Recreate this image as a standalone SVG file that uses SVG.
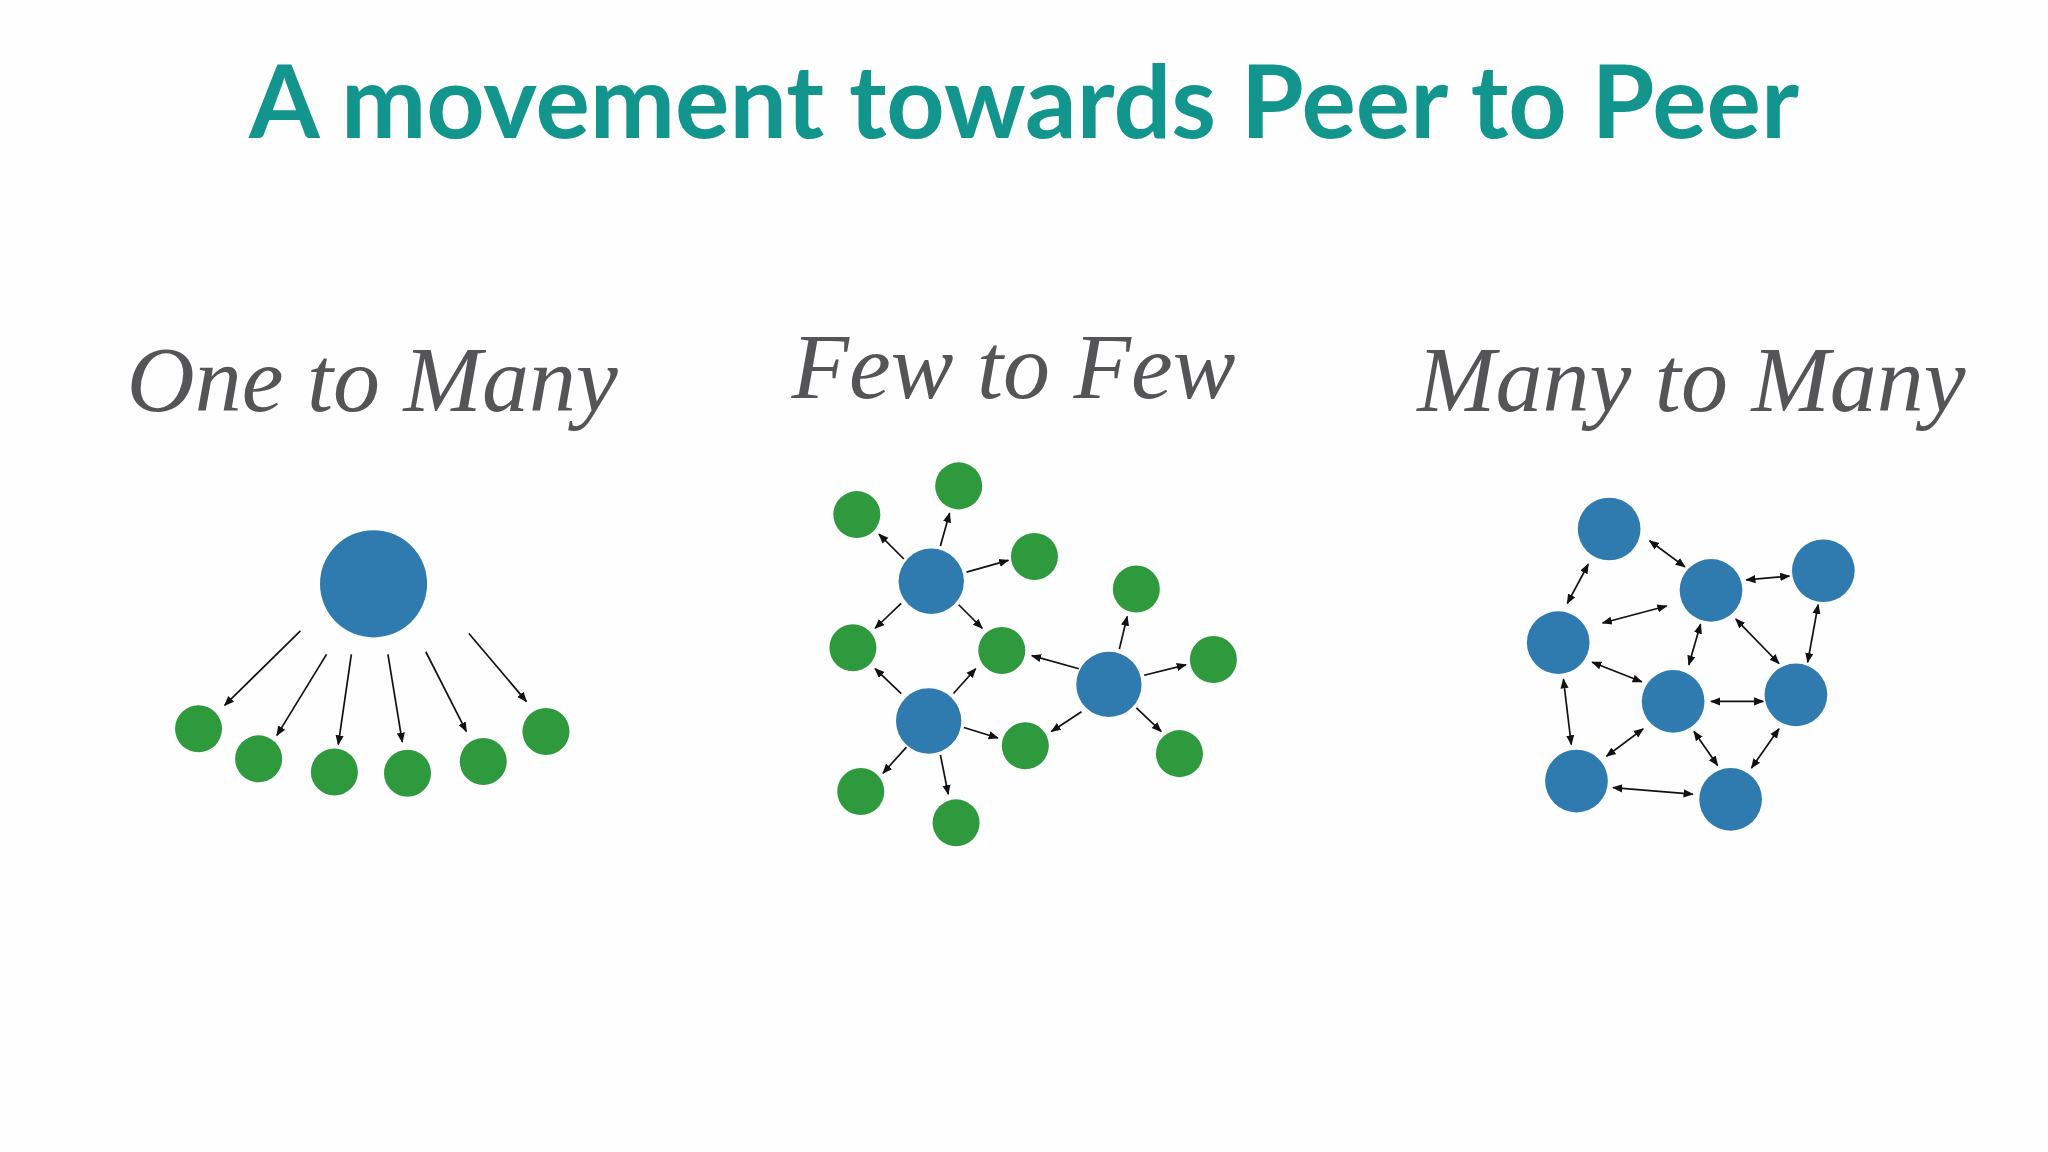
<svg xmlns="http://www.w3.org/2000/svg" width="2048" height="1152" viewBox="0 0 2048 1152">
<defs>
<style>
.t{font-family:Lato,"Open Sans",sans-serif;font-weight:bold;fill:#12958c}
.s{font-family:"Liberation Serif",serif;font-style:italic;fill:#555558}
.b{fill:#2f7bb0}
.g{fill:#2e993d}
.c line{stroke:#111;stroke-width:1.3;marker-end:url(#ah)}
.d line{marker-start:url(#ah)}
</style>
<marker id="ah" viewBox="0 0 10 10" refX="9" refY="5" markerWidth="6" markerHeight="6" orient="auto-start-reverse"><path d="M0,1 L10,5 L0,9 z" fill="#111"/></marker>
</defs>
<rect width="2048" height="1152" fill="#fefefe"/>
<g transform="scale(1.30612)">
<text class="t" x="784" y="106" font-size="78" text-anchor="middle">A movement towards Peer to Peer</text>
<text class="s" x="285" y="315" font-size="72" text-anchor="middle">One to Many</text>
<text class="s" x="776" y="305" font-size="72" text-anchor="middle">Few to Few</text>
<text class="s" x="1295" y="315" font-size="72" text-anchor="middle">Many to Many</text>
<g id="otm">
<circle class="b" cx="286" cy="447" r="41"/>
<circle class="g" cx="152" cy="558" r="18"/><circle class="g" cx="198" cy="581" r="18"/><circle class="g" cx="256" cy="591" r="18"/>
<circle class="g" cx="312" cy="592" r="18"/><circle class="g" cx="370" cy="583" r="18"/><circle class="g" cx="418" cy="560" r="18"/>
</g>
<g id="ftf">
<circle class="b" cx="713" cy="445" r="25"/><circle class="b" cx="711" cy="552" r="25"/><circle class="b" cx="849" cy="524" r="25"/>
<circle class="g" cx="656" cy="394" r="18"/><circle class="g" cx="734" cy="372" r="18"/><circle class="g" cx="792" cy="426" r="18"/>
<circle class="g" cx="653" cy="496" r="18"/><circle class="g" cx="767" cy="498" r="18"/><circle class="g" cx="870" cy="451" r="18"/>
<circle class="g" cx="929" cy="505" r="18"/><circle class="g" cx="785" cy="571" r="18"/><circle class="g" cx="903" cy="577" r="18"/>
<circle class="g" cx="659" cy="606" r="18"/><circle class="g" cx="732" cy="630" r="18"/>
</g>
<g id="mtm">
<circle class="b" cx="1232" cy="405" r="24"/><circle class="b" cx="1310" cy="452" r="24"/><circle class="b" cx="1396" cy="437" r="24"/>
<circle class="b" cx="1193" cy="492" r="24"/><circle class="b" cx="1281" cy="537" r="24"/><circle class="b" cx="1375" cy="532" r="24"/>
<circle class="b" cx="1207" cy="598" r="24"/><circle class="b" cx="1325" cy="612" r="24"/>
</g>
<g id="connectors" class="c">
<line x1="230" y1="483" x2="172" y2="540"/><line x1="250" y1="501" x2="212" y2="563"/><line x1="269" y1="501" x2="259" y2="570"/>
<line x1="297" y1="501" x2="308" y2="568"/><line x1="326" y1="499" x2="357" y2="560"/><line x1="359" y1="485" x2="403" y2="537"/>
<line x1="692" y1="428" x2="673" y2="409"/><line x1="720" y1="418" x2="727" y2="393"/><line x1="740" y1="438" x2="772" y2="429"/>
<line x1="690" y1="462" x2="670" y2="481"/><line x1="734" y1="463" x2="752" y2="481"/><line x1="690" y1="531" x2="670" y2="512"/>
<line x1="730" y1="531" x2="747" y2="512"/><line x1="738" y1="557" x2="764" y2="565"/><line x1="694" y1="572" x2="676" y2="592"/>
<line x1="720" y1="578" x2="726" y2="608"/><line x1="826" y1="512" x2="790" y2="502"/><line x1="857" y1="497" x2="863" y2="472"/>
<line x1="876" y1="517" x2="908" y2="509"/><line x1="828" y1="545" x2="805" y2="560"/><line x1="870" y1="542" x2="889" y2="560"/>
<g class="d">
<line x1="1263" y1="414" x2="1290" y2="434"/><line x1="1337" y1="444" x2="1370" y2="441"/><line x1="1216" y1="432" x2="1200" y2="462"/>
<line x1="1227" y1="477" x2="1276" y2="464"/><line x1="1302" y1="478" x2="1293" y2="509"/><line x1="1329" y1="474" x2="1362" y2="508"/>
<line x1="1392" y1="463" x2="1384" y2="507"/><line x1="1219" y1="507" x2="1257" y2="522"/><line x1="1310" y1="537" x2="1350" y2="537"/>
<line x1="1197" y1="520" x2="1203" y2="570"/><line x1="1258" y1="558" x2="1230" y2="579"/><line x1="1297" y1="560" x2="1315" y2="586"/>
<line x1="1362" y1="558" x2="1341" y2="588"/><line x1="1235" y1="603" x2="1296" y2="608"/>
</g>
</g>
</g>
</svg>
